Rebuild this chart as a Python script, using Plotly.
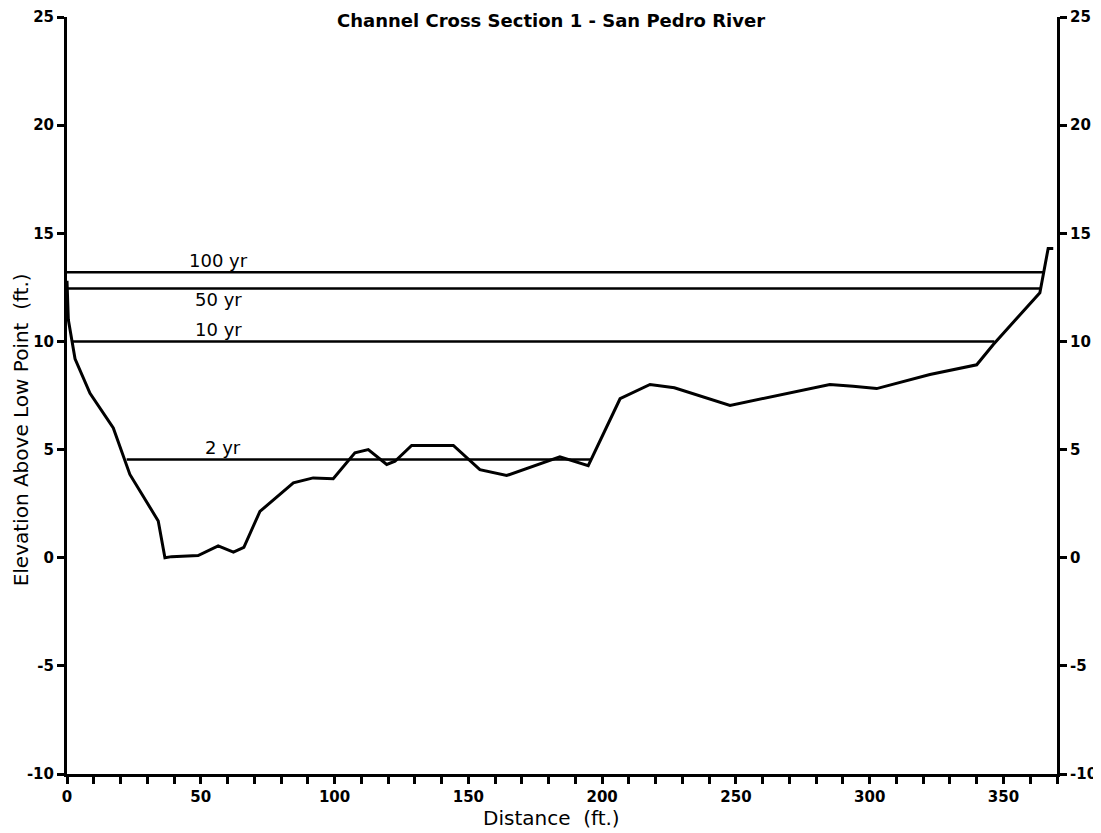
import plotly.graph_objects as go

# Ground profile (distance ft, elevation above low point ft)
profile_x = [0, 0.5, 3, 8.6, 17.3, 23.5, 34.1, 36.6, 39.1, 49, 56.5, 62.2, 66.1, 72.1,
             84.6, 92, 99.5, 107.6, 112.6, 119.5, 122.6, 128.8, 144.4, 154.3, 164.3,
             184.2, 194.8, 206.7, 217.9, 227, 247.8, 285.1, 293.8, 302.6, 322.5, 340,
             346.2, 363.6, 366.7, 368.6]
profile_y = [12.8, 11.0, 9.2, 7.6, 6.0, 3.85, 1.7, 0.0, 0.05, 0.1, 0.55, 0.26, 0.48, 2.14,
             3.46, 3.69, 3.65, 4.85, 5.0, 4.31, 4.46, 5.19, 5.19, 4.07, 3.8,
             4.66, 4.26, 7.35, 8.01, 7.86, 7.04, 8.01, 7.93, 7.82, 8.47, 8.92,
             9.86, 12.25, 14.3, 14.3]

# Water surface elevations for flood events
events = ["100 yr", "50 yr", "10 yr", "2 yr"]
ws_elev = [13.2, 12.45, 10.0, 4.54]
ws_start = [0, 0, 2.0, 22.3]
ws_end = [365.2, 363.9, 346.6, 195.9]
label_x = [56.5, 56.5, 56.5, 58.4]
label_y = [13.75, 11.95, 10.55, 5.08]

x_major = [0, 50, 100, 150, 200, 250, 300, 350]
y_ticks = [-10, -5, 0, 5, 10, 15, 20, 25]
y_ticktext = ["-10", "-5", "0", "5", "10", "15", "20", "25"]

FONT = "DejaVu Sans, Liberation Sans, Arial, sans-serif"

fig = go.Figure()

for i, ev in enumerate(events):
    fig.add_trace(go.Scatter(x=[ws_start[i], ws_end[i]], y=[ws_elev[i], ws_elev[i]],
                             mode="lines", line=dict(color="black", width=2.5),
                             showlegend=False, hoverinfo="skip"))
    fig.add_annotation(x=label_x[i], y=label_y[i], text=ev, showarrow=False,
                       font=dict(family=FONT, size=18, color="black"),
                       xanchor="center", yanchor="middle")

fig.add_trace(go.Scatter(x=profile_x, y=profile_y, mode="lines",
                         line=dict(color="black", width=3), showlegend=False))

# invisible trace to activate right axis
fig.add_trace(go.Scatter(x=profile_x, y=profile_y, yaxis="y2", mode="lines",
                         line=dict(color="rgba(0,0,0,0)", width=0), showlegend=False,
                         hoverinfo="skip"))

tickfont = dict(family=FONT, size=15, color="black", weight="bold")
common = dict(showgrid=False, zeroline=False, showline=True, linecolor="black",
              linewidth=3, ticks="outside", ticklen=7, tickwidth=2.5,
              tickcolor="black", tickfont=tickfont, automargin=False,
              ticklabeloverflow="allow")

fig.update_layout(
    width=1093, height=825,
    margin=dict(l=59, r=44, t=9, b=59, autoexpand=False),
    paper_bgcolor="white", plot_bgcolor="white",
    showlegend=False,
    xaxis=dict(range=[0, 370], tickmode="array", tickvals=x_major,
               minor=dict(dtick=10, tick0=0, ticks="outside", ticklen=7,
                          tickwidth=2.5, tickcolor="black"),
               **common),
    yaxis=dict(range=[-10, 25], tickmode="array", tickvals=y_ticks,
               ticktext=y_ticktext, **common),
    yaxis2=dict(range=[-10, 25], overlaying="y", side="right", anchor="x",
                tickmode="array", tickvals=y_ticks, ticktext=y_ticktext,
                **common),
)

fig.add_annotation(text="Channel Cross Section 1 - San Pedro River",
                   xref="paper", yref="paper", x=0.489, y=1, yshift=9,
                   xanchor="center", yanchor="top", showarrow=False,
                   font=dict(family=FONT, size=18, color="black", weight="bold"))
fig.add_annotation(text="Distance  (ft.)", xref="paper", yref="paper",
                   x=0.489, y=0, yshift=-44, xanchor="center", yanchor="middle",
                   showarrow=False, font=dict(family=FONT, size=20, color="black"))
fig.add_annotation(text="Elevation Above Low Point  (ft.)", xref="paper", yref="paper",
                   x=0, xshift=-46, y=0.454, xanchor="center", yanchor="middle",
                   textangle=-90, showarrow=False,
                   font=dict(family=FONT, size=20, color="black"))

fig.write_html("out.html")
